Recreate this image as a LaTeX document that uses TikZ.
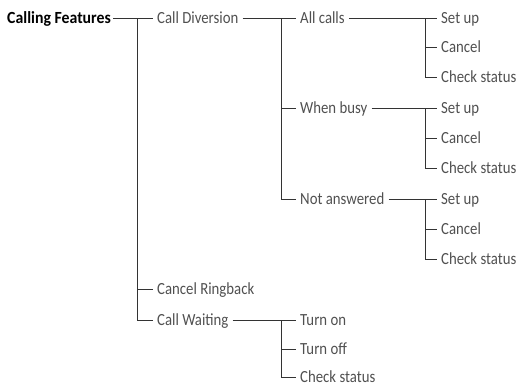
\documentclass[tikz,border=0pt]{standalone}
\usepackage{fontspec}
\setmainfont{Carlito}
\newfontfamily\itemfont[FakeStretch=0.87]{Carlito}
\newfontfamily\rootfont[FakeStretch=0.93]{Carlito}
\definecolor{txt}{HTML}{505050}
\definecolor{ln}{HTML}{333333}
\begin{document}
\begin{tikzpicture}[x=1pt,y=-1pt,
  item/.style={anchor=west,inner xsep=4pt,inner ysep=0pt,text height=11pt,text depth=0pt,text=txt,font=\itemfont\fontsize{17}{20}\selectfont},
  rootitem/.style={item,text=black,font=\rootfont\fontsize{17}{20}\selectfont\bfseries,inner xsep=2pt},
  conn/.style={draw=ln,line width=0.9pt}]
\useasboundingbox (0,0) rectangle (524,386);
\coordinate (b1) at (137,0);
\coordinate (b2) at (281,0);
\coordinate (b3) at (425,0);
\node[rootitem] (root) at (5,18) {Calling Features};
\node[item] (cd) at (153,18) {Call Diversion};
\node[item] (crb) at (153,289) {Cancel Ringback};
\node[item] (cw) at (153,320) {Call Waiting};
\node[item] (ac) at (296,18) {All calls};
\node[item] (wb) at (296,108) {When busy};
\node[item] (na) at (296,199) {Not answered};
\node[item] (ac1) at (437,18) {Set up};
\node[item] (ac2) at (437,47) {Cancel};
\node[item] (ac3) at (437,77) {Check status};
\node[item] (wb1) at (437,108) {Set up};
\node[item] (wb2) at (437,138) {Cancel};
\node[item] (wb3) at (437,168) {Check status};
\node[item] (na1) at (437,199) {Set up};
\node[item] (na2) at (437,229) {Cancel};
\node[item] (na3) at (437,259) {Check status};
\node[item] (cw1) at (296,320) {Turn on};
\node[item] (cw2) at (296,349) {Turn off};
\node[item] (cw3) at (296,377) {Check status};
% level 1
\draw[conn] (root.east) -- (cd.west);
\draw[conn] (cd.west -| b1) -- (cw.west -| b1) -- (cw.west);
\draw[conn] (crb.west -| b1) -- (crb.west);
% level 2
\draw[conn] (cd.east) -- (ac.west);
\draw[conn] (ac.west -| b2) -- (na.west -| b2) -- (na.west);
\draw[conn] (wb.west -| b2) -- (wb.west);
\draw[conn] (cw.east) -- (cw1.west);
\draw[conn] (cw1.west -| b2) -- (cw3.west -| b2) -- (cw3.west);
\draw[conn] (cw2.west -| b2) -- (cw2.west);
% level 3
\draw[conn] (ac.east) -- (ac1.west);
\draw[conn] (ac1.west -| b3) -- (ac3.west -| b3) -- (ac3.west);
\draw[conn] (ac2.west -| b3) -- (ac2.west);
\draw[conn] (wb.east) -- (wb1.west);
\draw[conn] (wb1.west -| b3) -- (wb3.west -| b3) -- (wb3.west);
\draw[conn] (wb2.west -| b3) -- (wb2.west);
\draw[conn] (na.east) -- (na1.west);
\draw[conn] (na1.west -| b3) -- (na3.west -| b3) -- (na3.west);
\draw[conn] (na2.west -| b3) -- (na2.west);
\end{tikzpicture}
\end{document}
